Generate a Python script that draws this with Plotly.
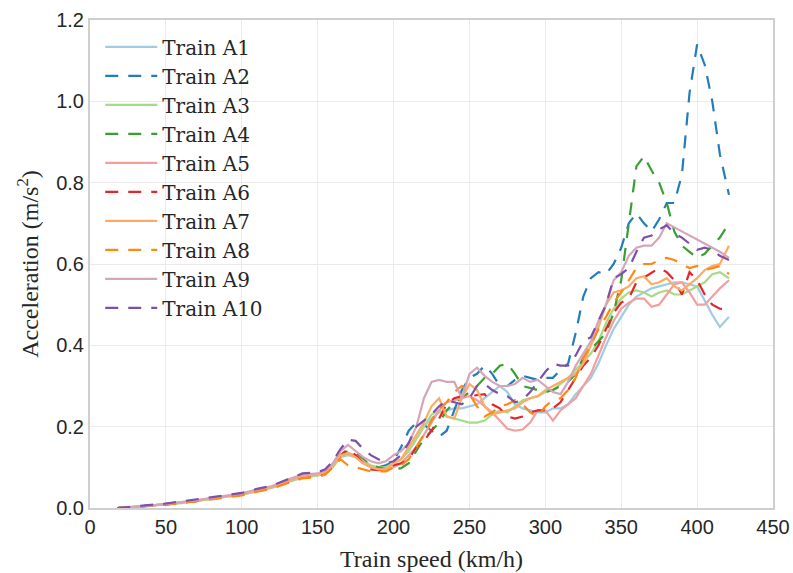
import plotly.graph_objects as go

# Train speed grid (km/h) shared by all runs
SPEED = [18, 30, 40, 50, 60, 70, 80, 90, 100, 110, 120, 130, 140,
         150, 155, 160, 165, 170, 175, 180, 185, 190, 195, 200,
         205, 210, 215, 220, 225, 230, 235, 240, 245, 250, 255, 260, 265, 270,
         275, 280, 285, 290, 295, 300, 305, 310, 315, 320, 325, 330, 335, 340,
         345, 350, 355, 360, 365, 370, 375, 380, 385, 390, 395, 400, 405, 410,
         415, 421]

# Acceleration (m/s^2) for each train
ACC_A1 = [0.0, 0.003, 0.006, 0.009, 0.013, 0.017, 0.023, 0.028, 0.033, 0.041, 0.05, 0.063, 0.075,
          0.080, 0.084, 0.10, 0.125, 0.13, 0.125, 0.11, 0.10, 0.10, 0.105, 0.11,
          0.12, 0.14, 0.17, 0.20, 0.22, 0.235, 0.24, 0.245, 0.245, 0.25, 0.255, 0.27, 0.285, 0.30,
          0.285, 0.255, 0.245, 0.24, 0.235, 0.235, 0.245, 0.245, 0.255, 0.28, 0.30, 0.32, 0.355, 0.40,
          0.44, 0.47, 0.50, 0.52, 0.53, 0.54, 0.545, 0.55, 0.555, 0.555, 0.55, 0.545, 0.51, 0.475,
          0.445, 0.47]
ACC_A2 = [0.0, 0.003, 0.006, 0.010, 0.013, 0.018, 0.024, 0.029, 0.034, 0.042, 0.051, 0.064, 0.077,
          0.082, 0.088, 0.105, 0.13, 0.135, 0.13, 0.115, 0.105, 0.10, 0.105, 0.115,
          0.15, 0.19, 0.21, 0.205, 0.19, 0.175, 0.19, 0.24, 0.29, 0.32, 0.33, 0.35, 0.33, 0.30,
          0.30, 0.315, 0.325, 0.32, 0.315, 0.32, 0.32, 0.34, 0.355, 0.43, 0.52, 0.565, 0.58, 0.575,
          0.60, 0.64, 0.70, 0.725, 0.70, 0.68, 0.71, 0.75, 0.75, 0.82, 1.02, 1.14, 1.09, 1.0,
          0.87, 0.77]
ACC_A3 = [0.0, 0.003, 0.005, 0.009, 0.012, 0.017, 0.022, 0.028, 0.033, 0.042, 0.05, 0.064, 0.076,
          0.080, 0.086, 0.10, 0.125, 0.135, 0.125, 0.115, 0.105, 0.10, 0.10, 0.11,
          0.12, 0.14, 0.17, 0.20, 0.23, 0.24, 0.225, 0.22, 0.215, 0.21, 0.21, 0.215, 0.23, 0.24,
          0.235, 0.25, 0.265, 0.27, 0.275, 0.285, 0.29, 0.305, 0.32, 0.34, 0.36, 0.38, 0.41, 0.455,
          0.49, 0.515, 0.53, 0.535, 0.53, 0.52, 0.53, 0.535, 0.525, 0.525, 0.535, 0.545, 0.555, 0.575,
          0.58, 0.565]
ACC_A4 = [0.0, 0.003, 0.006, 0.009, 0.013, 0.018, 0.023, 0.029, 0.034, 0.043, 0.051, 0.065, 0.078,
          0.082, 0.088, 0.105, 0.13, 0.14, 0.135, 0.12, 0.105, 0.10, 0.095, 0.095,
          0.098, 0.11, 0.14, 0.17, 0.19, 0.21, 0.24, 0.26, 0.27, 0.285, 0.30, 0.32, 0.33, 0.35,
          0.355, 0.33, 0.30, 0.295, 0.29, 0.285, 0.29, 0.30, 0.31, 0.33, 0.37, 0.39, 0.41, 0.43,
          0.48, 0.56, 0.70, 0.84, 0.865, 0.83, 0.80, 0.75, 0.68, 0.645, 0.63, 0.615, 0.625, 0.645,
          0.665, 0.70]
ACC_A5 = [0.0, 0.003, 0.006, 0.010, 0.014, 0.018, 0.024, 0.030, 0.035, 0.044, 0.052, 0.066, 0.079,
          0.083, 0.09, 0.108, 0.13, 0.135, 0.13, 0.115, 0.10, 0.095, 0.095, 0.10,
          0.11, 0.13, 0.15, 0.18, 0.21, 0.24, 0.26, 0.265, 0.27, 0.275, 0.265, 0.25, 0.235, 0.215,
          0.195, 0.19, 0.193, 0.21, 0.24, 0.24, 0.215, 0.24, 0.255, 0.27, 0.30, 0.33, 0.375, 0.42,
          0.46, 0.49, 0.505, 0.515, 0.515, 0.495, 0.50, 0.525, 0.55, 0.555, 0.53, 0.50, 0.50, 0.52,
          0.54, 0.56]
ACC_A6 = [0.0, 0.003, 0.006, 0.009, 0.013, 0.017, 0.023, 0.028, 0.033, 0.042, 0.05, 0.063, 0.076,
          0.078, 0.084, 0.10, 0.13, 0.145, 0.13, 0.11, 0.095, 0.093, 0.095, 0.105,
          0.11, 0.12, 0.15, 0.165, 0.19, 0.22, 0.255, 0.27, 0.275, 0.275, 0.278, 0.28, 0.255, 0.245,
          0.225, 0.22, 0.225, 0.235, 0.24, 0.24, 0.245, 0.26, 0.29, 0.32, 0.35, 0.37, 0.40, 0.44,
          0.48, 0.505, 0.515, 0.555, 0.567, 0.58, 0.59, 0.58, 0.56, 0.525, 0.58, 0.56, 0.525, 0.50,
          0.49, 0.488]
ACC_A7 = [0.0, 0.003, 0.006, 0.010, 0.013, 0.018, 0.024, 0.029, 0.034, 0.043, 0.052, 0.066, 0.078,
          0.082, 0.088, 0.105, 0.13, 0.135, 0.125, 0.11, 0.10, 0.095, 0.095, 0.11,
          0.12, 0.15, 0.18, 0.21, 0.25, 0.27, 0.225, 0.22, 0.27, 0.305, 0.29, 0.25, 0.23, 0.235,
          0.24, 0.245, 0.26, 0.27, 0.275, 0.29, 0.30, 0.31, 0.32, 0.33, 0.355, 0.40, 0.445, 0.50,
          0.53, 0.535, 0.545, 0.565, 0.57, 0.55, 0.555, 0.565, 0.545, 0.535, 0.55, 0.565, 0.585, 0.595,
          0.60, 0.645]
ACC_A8 = [0.0, 0.002, 0.005, 0.008, 0.012, 0.016, 0.021, 0.026, 0.031, 0.040, 0.048, 0.061, 0.073,
          0.076, 0.082, 0.10, 0.12, 0.105, 0.10, 0.095, 0.09, 0.09, 0.09, 0.10,
          0.105, 0.12, 0.15, 0.18, 0.215, 0.245, 0.26, 0.285, 0.30, 0.28, 0.25, 0.225, 0.235, 0.25,
          0.255, 0.265, 0.255, 0.235, 0.225, 0.25, 0.265, 0.27, 0.29, 0.32, 0.37, 0.40, 0.44, 0.47,
          0.505, 0.53, 0.56, 0.59, 0.60, 0.60, 0.61, 0.615, 0.61, 0.60, 0.59, 0.595, 0.585, 0.59,
          0.595, 0.575]
ACC_A9 = [0.0, 0.003, 0.006, 0.010, 0.014, 0.019, 0.025, 0.031, 0.036, 0.046, 0.054, 0.070, 0.082,
          0.085, 0.092, 0.11, 0.14, 0.155, 0.14, 0.125, 0.115, 0.11, 0.115, 0.13,
          0.14, 0.16, 0.20, 0.27, 0.31, 0.315, 0.31, 0.31, 0.27, 0.33, 0.345, 0.325, 0.31, 0.30,
          0.30, 0.305, 0.32, 0.31, 0.315, 0.30, 0.285, 0.28, 0.31, 0.35, 0.38, 0.41, 0.46, 0.50,
          0.56, 0.58, 0.62, 0.64, 0.645, 0.645, 0.665, 0.70, 0.69, 0.68, 0.67, 0.66, 0.65, 0.64,
          0.63, 0.615]
ACC_A10 = [0.0, 0.004, 0.007, 0.011, 0.016, 0.021, 0.026, 0.032, 0.037, 0.047, 0.055, 0.07, 0.085,
           0.088, 0.095, 0.115, 0.145, 0.168, 0.165, 0.145, 0.13, 0.12, 0.11, 0.115,
           0.13, 0.16, 0.20, 0.215, 0.23, 0.25, 0.265, 0.26, 0.255, 0.27, 0.30, 0.305, 0.29, 0.28,
           0.275, 0.26, 0.265, 0.285, 0.31, 0.335, 0.355, 0.35, 0.35, 0.375, 0.41, 0.42, 0.46, 0.50,
           0.565, 0.575, 0.59, 0.63, 0.665, 0.67, 0.685, 0.695, 0.675, 0.665, 0.65, 0.635, 0.64, 0.635,
           0.62, 0.61]

TRAINS = ["Train A1", "Train A2", "Train A3", "Train A4", "Train A5",
          "Train A6", "Train A7", "Train A8", "Train A9", "Train A10"]
SERIES = [ACC_A1, ACC_A2, ACC_A3, ACC_A4, ACC_A5,
          ACC_A6, ACC_A7, ACC_A8, ACC_A9, ACC_A10]
COLORS = ["#a0cbe4", "#237dbb", "#a5dc88", "#37a032", "#f2a09e",
          "#e8232a", "#fdaa64", "#ff8714", "#d4a6ba", "#7d50aa"]
DASHED = [False, True, False, True, False, True, False, True, False, True]

fig = go.Figure()
for name, acc, color, dashed in zip(TRAINS, SERIES, COLORS, DASHED):
    fig.add_trace(go.Scatter(
        x=SPEED, y=acc, name=name, mode="lines", legendgroup=name,
        line=dict(color=color, width=2.2,
                  dash="13px,10px" if dashed else "solid"),
    ))

axis_common = dict(
    showgrid=True, gridcolor="#ebebeb", gridwidth=1,
    showline=True, linecolor="#cfcfcf", linewidth=2, mirror=True,
    zeroline=False, ticks="", automargin=False,
    tickfont=dict(family="Liberation Sans", size=20, color="#262626"),
)

fig.update_layout(
    width=793, height=573,
    margin=dict(l=90, r=20, t=20, b=65),
    paper_bgcolor="white", plot_bgcolor="white",
    xaxis=dict(range=[0, 450], tick0=0, dtick=50,
               title=dict(text="Train speed (km/h)", standoff=13,
                          font=dict(family="Liberation Serif", size=24, color="#262626")),
               **axis_common),
    yaxis=dict(range=[0, 1.2], tick0=0, dtick=0.2, tickformat=".1f",
               title=dict(text="Acceleration (m/s<sup>2</sup>)", standoff=11,
                          font=dict(family="Liberation Serif", size=24, color="#262626")),
               **axis_common),
    legend=dict(x=0.015, y=0.985, xanchor="left", yanchor="top",
                bgcolor="rgba(0,0,0,0)", borderwidth=0,
                font=dict(family="DejaVu Serif", size=20, color="#262626"),
                tracegroupgap=0, itemwidth=52),
    showlegend=True,
)

fig.write_html("out.html")
